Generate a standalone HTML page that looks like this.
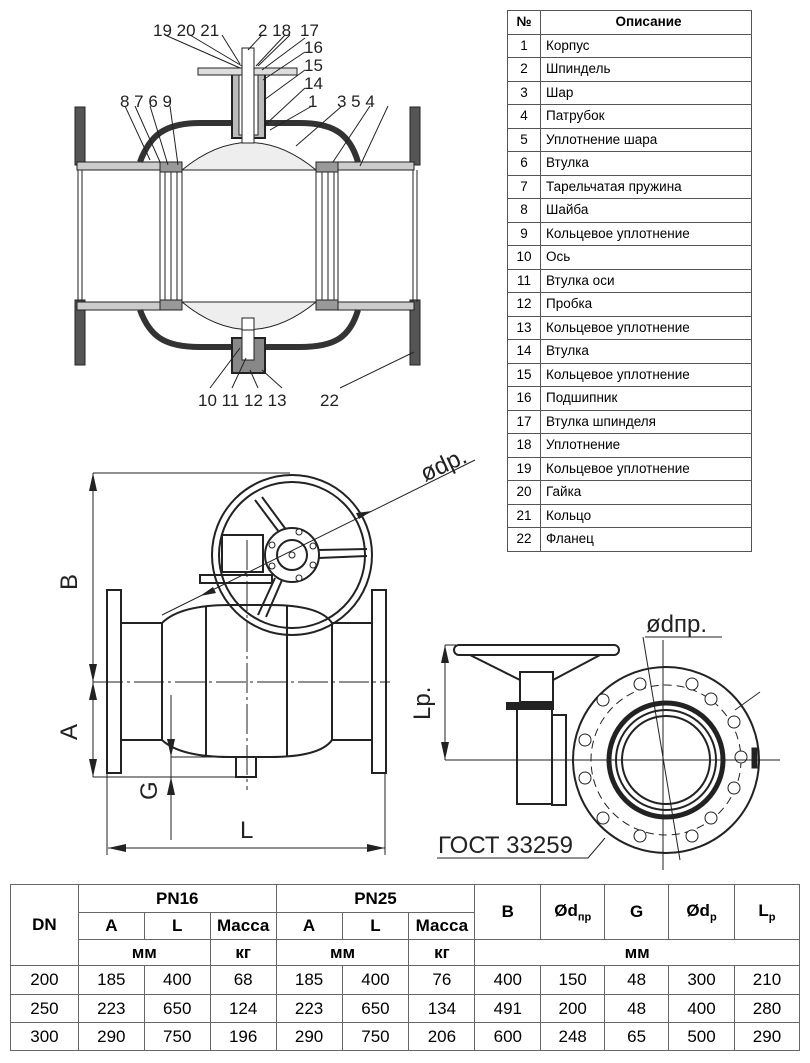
<!DOCTYPE html>
<html><head><meta charset="utf-8"><style>
html,body{margin:0;padding:0;background:#fff;}
body{width:810px;height:1063px;position:relative;overflow:hidden;font-family:"Liberation Sans",sans-serif;}
svg{position:absolute;left:0;top:0;}
table{border-collapse:collapse;position:absolute;}
#t1{left:507px;top:10px;width:245px;font-size:13.5px;}
#t1 td{border:1px solid #555;height:22.5px;padding:0 0 0 5px;line-height:14px;}
#t1 td:first-child{text-align:center;padding:0;width:32px;}
#t2{left:10px;top:884px;width:790px;font-family:"Liberation Sans Narrow","Liberation Sans",sans-serif;font-size:17px;text-align:center;}
#t2 td{border:1px solid #666;padding:0;}
#t2 .h{font-weight:bold;}
sub{font-size:11px;}
</style></head><body>
<svg width="810" height="1063" viewBox="0 0 810 1063" font-family="Liberation Sans, sans-serif">
<g fill="none" stroke="#222" stroke-width="1">
<!-- top section drawing -->
<rect x="75" y="107" width="10" height="58" fill="#555"/>
<rect x="75" y="300" width="10" height="65" fill="#555"/>
<rect x="410" y="107" width="10" height="58" fill="#555"/>
<rect x="410" y="300" width="10" height="65" fill="#555"/>
<rect x="77" y="162" width="83" height="8" fill="#ccc"/>
<rect x="316" y="162" width="98" height="8" fill="#ccc"/>
<rect x="77" y="302" width="83" height="8" fill="#ccc"/>
<rect x="316" y="302" width="98" height="8" fill="#ccc"/>
<line x1="78" y1="170" x2="78" y2="302"/><line x1="82" y1="170" x2="82" y2="302"/>
<line x1="413" y1="170" x2="413" y2="302"/><line x1="417" y1="170" x2="417" y2="302"/>
<path d="M140 162 C150 135 165 123 200 123 L300 123 C335 123 350 135 358 162" stroke="#333" stroke-width="6"/>
<path d="M140 310 C150 337 165 347 200 347 L300 347 C335 347 350 337 358 310" stroke="#333" stroke-width="6"/>
<path d="M182 170 Q249 115 316 170 Z" fill="#eee"/>
<path d="M182 302 Q249 357 316 302 Z" fill="#eee"/>
<rect x="160" y="162" width="22" height="148" fill="#fff"/>
<rect x="316" y="162" width="22" height="148" fill="#fff"/>
<line x1="165" y1="170" x2="165" y2="302"/><line x1="171" y1="170" x2="171" y2="302"/><line x1="177" y1="170" x2="177" y2="302"/>
<line x1="322" y1="170" x2="322" y2="302"/><line x1="328" y1="170" x2="328" y2="302"/><line x1="334" y1="170" x2="334" y2="302"/>
<rect x="160" y="162" width="22" height="10" fill="#999"/><rect x="316" y="162" width="22" height="10" fill="#999"/>
<rect x="160" y="300" width="22" height="10" fill="#999"/><rect x="316" y="300" width="22" height="10" fill="#999"/>
<rect x="232" y="70" width="33" height="68" fill="#bbb" stroke-width="2"/>
<rect x="239" y="75" width="19" height="60" fill="#fff"/>
<rect x="198" y="68" width="99" height="7" fill="#ddd"/>
<rect x="242" y="48" width="12" height="95" fill="#fff"/>
<rect x="242" y="318" width="12" height="30" fill="#fff"/>
<rect x="232" y="338" width="33" height="35" fill="#888" stroke-width="2"/>
<rect x="242" y="330" width="12" height="30" fill="#fff"/>
<!-- leaders -->
<path d="M165 35 L240 68 M190 35 L242 66 M222 35 L240 64 M262 35 L248 50 M285 35 L256 66 M290 35 L258 66 M305 38 L262 70 M305 52 L263 80 M305 70 L264 100 M305 88 L264 126 M312 106 L270 130 M342 106 L296 146 M370 106 L333 162 M388 106 L360 166 M125 106 L150 160 M135 106 L160 162 M150 106 L168 165 M170 106 L178 165 M210 388 L240 348 M232 388 L246 358 M258 388 L250 370 M282 388 L262 370 M340 388 L414 352"/>
<!-- middle drawing -->
<g stroke-width="2">
<circle cx="292" cy="555" r="80"/><circle cx="292" cy="555" r="73"/>
<rect x="107" y="590" width="14" height="183"/><rect x="372" y="590" width="14" height="183"/>
<path d="M121 623 H162 M121 740 H162 M332 623 H372 M332 740 H372"/>
<path d="M162 623 Q180 605 230 605 L270 605 Q320 605 332 623 L332 740 Q320 757 270 757 L230 757 Q180 757 162 740 Z"/>
<line x1="162" y1="623" x2="162" y2="740"/>
<line x1="206" y1="606" x2="206" y2="757"/><line x1="287" y1="606" x2="287" y2="757"/>
<rect x="236" y="757" width="20" height="20"/>
<rect x="222" y="535" width="41" height="37"/>
<rect x="200" y="575" width="72" height="8"/>
<path d="M255 500 L285 540 M262 497 L290 535 M318 550 L367 549 M318 558 L367 556 M275 578 L258 615 M282 580 L266 617"/>
<circle cx="292" cy="555" r="27" fill="#fff"/><circle cx="292" cy="555" r="15"/>
</g>
<circle cx="292" cy="555" r="3"/>
<g fill="#fff"><circle cx="299" cy="532" r="3"/><circle cx="313" cy="546" r="3"/><circle cx="313" cy="565" r="3"/><circle cx="299" cy="578" r="3"/><circle cx="272" cy="545" r="3"/><circle cx="272" cy="566" r="3"/></g>
<path d="M93 682 H390" stroke-dasharray="30 4 3 4"/>
<path d="M247 540 V790" stroke-dasharray="30 4 3 4"/>
<path d="M93 473 H290 M93 473 V777 M93 777 H256 M171 757 H236 M171 695 V840 M107 773 V855 M385 773 V855 M108 848 H385 M162 615 L475 460"/>
<g fill="#222" stroke="none">
<path d="M93 473 l-4 18 h8z M93 682 l-4 -18 h8z M93 682 l-4 18 h8z M93 777 l-4 -18 h8z M171 757 l-4 -18 h8z M171 777 l-4 18 h8z M108 848 l18 -4 v8z M385 848 l-18 -4 v8z M372 511 l-16 2 3 6z M200 596 l16 -3 -3 -6z"/>
</g>
<!-- right drawing -->
<g stroke-width="2">
<rect x="454" y="645" width="165" height="10" rx="5"/>
<path d="M470 655 L520 680 M600 655 L553 680"/>
<rect x="520" y="672" width="33" height="30"/>
<rect x="507" y="703" width="46" height="6" fill="#222"/>
<rect x="517" y="709" width="35" height="95"/>
<rect x="552" y="715" width="14" height="90"/>
<circle cx="666" cy="760" r="93"/><circle cx="666" cy="760" r="57" stroke-width="5"/>
<circle cx="666" cy="760" r="50"/><circle cx="666" cy="760" r="44"/>
</g>
<circle cx="666" cy="760" r="75" stroke-dasharray="8 5"/>
<g fill="#fff">
<circle cx="640" cy="684" r="6"/><circle cx="692" cy="684" r="6"/><circle cx="711" cy="699" r="6"/><circle cx="734" cy="722" r="6"/><circle cx="741" cy="757" r="6"/><circle cx="734" cy="788" r="6"/><circle cx="711" cy="818" r="6"/><circle cx="692" cy="836" r="6"/><circle cx="640" cy="836" r="6"/><circle cx="603" cy="818" r="6"/><circle cx="585" cy="778" r="6"/><circle cx="585" cy="740" r="6"/><circle cx="603" cy="700" r="6"/>
</g>
<path d="M445 760 H780 M663 640 V870 M643 637 L680 860"/>
<path d="M445 645 H456 M445 645 V760 M645 637 H722 M437 858 H588 L605 838 M735 710 L760 692"/>
<g fill="#222" stroke="none"><path d="M445 645 l-4 18 h8z M445 760 l-4 -18 h8z"/></g>
<rect x="752" y="748" width="5" height="20" fill="#222"/>
</g>
<g font-size="17" fill="#222">
<text x="153" y="36">19 20 21</text><text x="258" y="36">2 18</text>
<text x="300" y="36">17</text><text x="304" y="53">16</text><text x="304" y="71">15</text><text x="304" y="89">14</text>
<text x="308" y="107">1</text><text x="337" y="107">3 5 4</text><text x="120" y="107">8 7 6 9</text>
<text x="198" y="406">10 11 12 13</text><text x="320" y="406">22</text>
</g>
<g font-size="24" fill="#222" font-family="Liberation Sans Narrow, Liberation Sans, sans-serif">
<text transform="translate(77,590) rotate(-90)">B</text>
<text transform="translate(77,740) rotate(-90)">A</text>
<text transform="translate(157,800) rotate(-90)">G</text>
<text x="240" y="838">L</text>
<text transform="translate(430,720) rotate(-90)">Lp.</text>
<text transform="translate(425,482) rotate(-25)">ød<tspan>p.</tspan></text>
<text x="646" y="632">ødпр.</text>
<text x="438" y="853">ГОСТ 33259</text>
</g>
</svg>
<table id="t1">
<tr><td><b>№</b></td><td style="text-align:center"><b>Описание</b></td></tr>
<tr><td>1</td><td>Корпус</td></tr><tr><td>2</td><td>Шпиндель</td></tr><tr><td>3</td><td>Шар</td></tr>
<tr><td>4</td><td>Патрубок</td></tr><tr><td>5</td><td>Уплотнение шара</td></tr><tr><td>6</td><td>Втулка</td></tr>
<tr><td>7</td><td>Тарельчатая пружина</td></tr><tr><td>8</td><td>Шайба</td></tr><tr><td>9</td><td>Кольцевое уплотнение</td></tr>
<tr><td>10</td><td>Ось</td></tr><tr><td>11</td><td>Втулка оси</td></tr><tr><td>12</td><td>Пробка</td></tr>
<tr><td>13</td><td>Кольцевое уплотнение</td></tr><tr><td>14</td><td>Втулка</td></tr><tr><td>15</td><td>Кольцевое уплотнение</td></tr>
<tr><td>16</td><td>Подшипник</td></tr><tr><td>17</td><td>Втулка шпинделя</td></tr><tr><td>18</td><td>Уплотнение</td></tr>
<tr><td>19</td><td>Кольцевое уплотнение</td></tr><tr><td>20</td><td>Гайка</td></tr><tr><td>21</td><td>Кольцо</td></tr><tr><td>22</td><td>Фланец</td></tr>
</table>
<table id="t2">
<colgroup><col style="width:68px"><col style="width:66px"><col style="width:66px"><col style="width:66px"><col style="width:66px"><col style="width:67px"><col style="width:66px"><col style="width:66px"><col style="width:64px"><col style="width:64px"><col style="width:66px"><col style="width:65px"></colgroup>
<tr style="height:28px"><td rowspan="3" class="h">DN</td><td colspan="3" class="h">PN16</td><td colspan="3" class="h">PN25</td><td rowspan="2" class="h">B</td><td rowspan="2" class="h">Ød<sub>пр</sub></td><td rowspan="2" class="h">G</td><td rowspan="2" class="h">Ød<sub>р</sub></td><td rowspan="2" class="h">L<sub>р</sub></td></tr>
<tr style="height:27px"><td class="h">A</td><td class="h">L</td><td class="h">Масса</td><td class="h">A</td><td class="h">L</td><td class="h">Масса</td></tr>
<tr style="height:26px"><td colspan="2" class="h">мм</td><td class="h">кг</td><td colspan="2" class="h">мм</td><td class="h">кг</td><td colspan="5" class="h">мм</td></tr>
<tr style="height:29px"><td>200</td><td>185</td><td>400</td><td>68</td><td>185</td><td>400</td><td>76</td><td>400</td><td>150</td><td>48</td><td>300</td><td>210</td></tr>
<tr style="height:28px"><td>250</td><td>223</td><td>650</td><td>124</td><td>223</td><td>650</td><td>134</td><td>491</td><td>200</td><td>48</td><td>400</td><td>280</td></tr>
<tr style="height:28px"><td>300</td><td>290</td><td>750</td><td>196</td><td>290</td><td>750</td><td>206</td><td>600</td><td>248</td><td>65</td><td>500</td><td>290</td></tr>
</table>
</body></html>
